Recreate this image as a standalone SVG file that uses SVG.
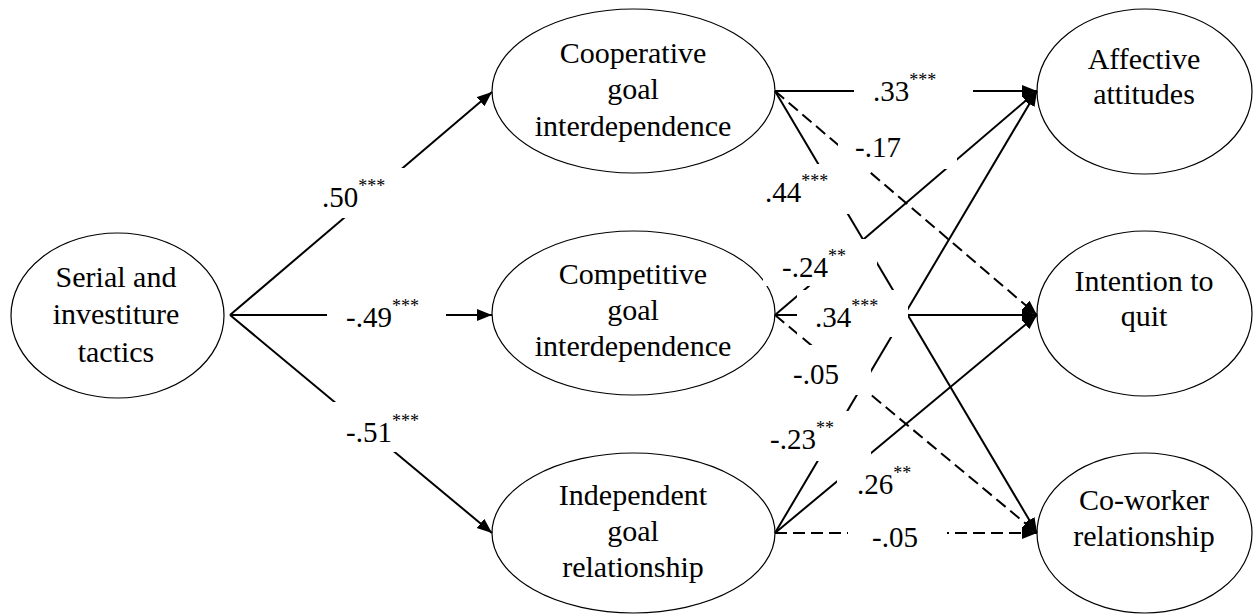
<svg xmlns="http://www.w3.org/2000/svg" width="1253" height="615" viewBox="0 0 1253 615">
<style>
  .node ellipse { fill: #fff; stroke: #000; stroke-width: 1.2; }
  .node text { font-family: "Liberation Serif", "Times New Roman", serif; font-size: 30px; text-anchor: middle; fill: #000; }
  .edge { fill: none; stroke: #000; stroke-width: 2; marker-end: url(#arrow); }
  .dash { stroke-dasharray: 12 6; }
  .box { fill: #fff; stroke: none; }
  .lbl { font-family: "Liberation Serif", "Times New Roman", serif; font-size: 29px; fill: #000; }
  .sup { font-size: 18px; }
</style>
<defs>
  <marker id="arrow" markerUnits="userSpaceOnUse" markerWidth="16" markerHeight="13" refX="15" refY="6" orient="auto">
    <path d="M0,0 L15,6 L0,12 Z" fill="#000" stroke="none"/>
  </marker>
</defs>
<rect width="1253" height="615" fill="#fff"/>

<g id="node-serial" class="node">
  <ellipse cx="117.5" cy="315.5" rx="106.5" ry="82.5"/>
  <text x="116" y="287">Serial and</text>
  <text x="116" y="324">investiture</text>
  <text x="116" y="361.5">tactics</text>
</g>
<g id="node-cooperative" class="node">
  <ellipse cx="633.5" cy="91" rx="141.5" ry="82"/>
  <text x="633" y="62.5">Cooperative</text>
  <text x="633" y="99">goal</text>
  <text x="633" y="135.5">interdependence</text>
</g>
<g id="node-competitive" class="node">
  <ellipse cx="633.5" cy="313" rx="141.5" ry="82"/>
  <text x="633" y="283.5">Competitive</text>
  <text x="633" y="320">goal</text>
  <text x="633" y="356">interdependence</text>
</g>
<g id="node-independent" class="node">
  <ellipse cx="633.5" cy="533" rx="141.5" ry="80"/>
  <text x="633" y="505">Independent</text>
  <text x="633" y="541">goal</text>
  <text x="633" y="577">relationship</text>
</g>
<g id="node-affective" class="node">
  <ellipse cx="1144.5" cy="91.5" rx="107.5" ry="82.5"/>
  <text x="1144" y="68.5">Affective</text>
  <text x="1144" y="103.5">attitudes</text>
</g>
<g id="node-intention" class="node">
  <ellipse cx="1144.5" cy="313.5" rx="107.5" ry="82.5"/>
  <text x="1144" y="290.5">Intention to</text>
  <text x="1144" y="326">quit</text>
</g>
<g id="node-coworker" class="node">
  <ellipse cx="1144.5" cy="533" rx="107.5" ry="80"/>
  <text x="1144" y="510">Co-worker</text>
  <text x="1144" y="545.5">relationship</text>
</g>

<g id="connectors">
  <g id="lines">
    <path class="edge" d="M230,315 L492,92"/>
    <path class="edge" d="M230,315 L492,315"/>
    <path class="edge" d="M230,315 L492,533"/>
    <path class="edge" d="M775,91 L1037,91"/>
    <path class="edge dash" d="M775,91 L1037,315"/>
    <path class="edge" d="M775,91 L1037,533"/>
    <path class="edge" d="M775,315 L1037,91"/>
    <path class="edge" d="M775,315 L1037,315"/>
    <path class="edge dash" d="M775,315 L1037,533"/>
    <path class="edge" d="M775,533 L1037,91"/>
    <path class="edge" d="M775,533 L1037,315"/>
    <path class="edge dash" d="M775,533 L1037,533"/>
  </g>
  <g id="labels">
    <g id="lbl-serial-coop"><rect class="box" x="304" y="168" width="119" height="50"/><text class="lbl" x="322" y="207">.50<tspan class="sup" dy="-15">***</tspan></text></g>
    <g id="lbl-serial-comp"><rect class="box" x="327" y="290" width="119" height="50"/><text class="lbl" x="346" y="327">-.49<tspan class="sup" dy="-15">***</tspan></text></g>
    <g id="lbl-serial-ind"><rect class="box" x="328" y="402" width="119" height="50"/><text class="lbl" x="346" y="442">-.51<tspan class="sup" dy="-15">***</tspan></text></g>
    <g id="lbl-coop-aff"><rect class="box" x="854" y="63" width="119" height="50"/><text class="lbl" x="873" y="101">.33<tspan class="sup" dy="-15">***</tspan></text></g>
    <g id="lbl-coop-int"><rect class="box" x="838" y="119" width="119" height="50"/><text class="lbl" x="855" y="157">-.17</text></g>
    <g id="lbl-coop-cow"><rect class="box" x="747" y="164" width="119" height="50"/><text class="lbl" x="765" y="202">.44<tspan class="sup" dy="-15">***</tspan></text></g>
    <g id="lbl-comp-aff"><rect class="box" x="763" y="239" width="114" height="47"/><text class="lbl" x="782" y="277">-.24<tspan class="sup" dy="-15">**</tspan></text></g>
    <g id="lbl-comp-int"><rect class="box" x="797" y="290" width="111" height="47"/><text class="lbl" x="815" y="327">.34<tspan class="sup" dy="-15">***</tspan></text></g>
    <g id="lbl-comp-cow"><rect class="box" x="775" y="345" width="96" height="50"/><text class="lbl" x="793" y="384">-.05</text></g>
    <g id="lbl-ind-aff"><rect class="box" x="752" y="411" width="119" height="50"/><text class="lbl" x="770" y="449">-.23<tspan class="sup" dy="-15">**</tspan></text></g>
    <g id="lbl-ind-int"><rect class="box" x="837" y="456" width="98" height="50"/><text class="lbl" x="857" y="494">.26<tspan class="sup" dy="-15">**</tspan></text></g>
    <g id="lbl-ind-cow"><rect class="box" x="848" y="509" width="99" height="50"/><text class="lbl" x="872" y="547">-.05</text></g>
  </g>
</g>
</svg>
